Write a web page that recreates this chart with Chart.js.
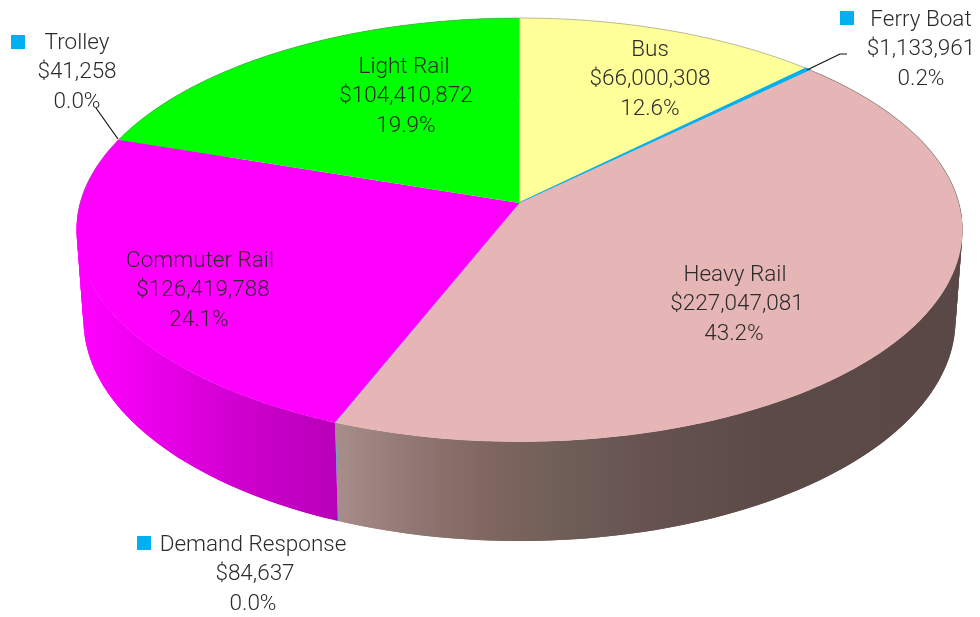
<!DOCTYPE html>
<html>
<head>
<meta charset="utf-8">
<style>html,body{margin:0;padding:0;background:#fff}canvas{display:block}</style>
<script src="https://cdn.jsdelivr.net/npm/chart.js@4"></script>
</head>
<body>
<canvas id="c" width="980" height="617"></canvas>
<script>
const categories = ['Bus','Ferry Boat','Heavy Rail','Demand Response','Commuter Rail','Trolley','Light Rail'];
const amounts = [66000308,1133961,227047081,84637,126419788,41258,104410872];
const amountLabels = ['$66,000,308','$1,133,961','$227,047,081','$84,637','$126,419,788','$41,258','$104,410,872'];
const percentLabels = ['12.6%','0.2%','43.2%','0.0%','24.1%','0.0%','19.9%'];
const sliceColors = ['#ffff99','#00b0f0','#e6b5b5','#00b0f0','#ff00ff','#00b0f0','#00ff00'];
const sliceBorders = [0,1.5,0,0,0,0,0];

// layout (not data): x of name, amount, percent lines and y of the first line
const labelXs = [[650,650,650],[921,921,921],[735,737,734],[253,255,253],[200,203,199],[77,77,77],[404,406,406]];
const labelYs = [50,20,275,545,261,43,67];
const markers = {1:[840,11],3:[137,536],5:[11,35]};
const leaders = {1:[[847,54],[840,54],[807,70]],5:[[96,108],[118,139]]};
const LINE_GAP = 29.5;

const cx = 519.5;
const topFace = {a:182.7,b:203,c:-0.127,d:439.4};
const botFace = {a:180.4,b:291.9,c:-0.127,d:432.5};
function project(f,ang){
  const u=Math.cos(ang), v=Math.sin(ang), w=1+f.c*v;
  return [cx+f.d*u/w,(f.a*v+f.b)/w];
}
function rim(ctx,f,a0,a1,first){
  const n=Math.max(2,Math.ceil(Math.abs(a1-a0)/0.01));
  for(let i=0;i<=n;i++){
    const p=project(f,a0+(a1-a0)*i/n);
    if(i===0&&first)ctx.moveTo(p[0],p[1]);else ctx.lineTo(p[0],p[1]);
  }
}
function wallFill(ctx,i){
  if(i===2){
    const g=ctx.createLinearGradient(335,0,955,0);
    [[0,'#a88e8a'],[0.14,'#8f7571'],[0.24,'#80675f'],[0.37,'#6f5e58'],[0.49,'#675452'],[0.69,'#5c4a47'],[1,'#5a4846']]
      .forEach(s=>g.addColorStop(s[0],s[1]));
    return g;
  }
  if(i===4){
    const g=ctx.createLinearGradient(84,0,338,0);
    [[0,'#ff00ff'],[0.3,'#e800e8'],[0.65,'#cc00cc'],[1,'#b800b8']]
      .forEach(s=>g.addColorStop(s[0],s[1]));
    return g;
  }
  return sliceColors[i];
}
function wall(ctx,arc,fill){
  // overlapping quads, so the strip stays filled where it folds at the silhouette
  const step=0.02, span=arc.endAngle-arc.startAngle, n=Math.max(1,Math.ceil(span/step));
  ctx.fillStyle=fill;
  for(let k=0;k<n;k++){
    const a0=arc.startAngle+span*k/n, a1=arc.startAngle+span*Math.min(n,k+2)/n;
    const t0=project(topFace,a0),t1=project(topFace,a1),b1=project(botFace,a1),b0=project(botFace,a0);
    ctx.beginPath();
    ctx.moveTo(t0[0],t0[1]);ctx.lineTo(t1[0],t1[1]);ctx.lineTo(b1[0],b1[1]);ctx.lineTo(b0[0],b0[1]);
    ctx.closePath();
    ctx.fill();
  }
}
const perspectivePie = {
  id:'perspectivePie',
  beforeDatasetDraw(chart,args){
    const ctx=chart.ctx, arcs=chart.getDatasetMeta(args.index).data;
    ctx.save();
    arcs.forEach((arc,i)=>wall(ctx,arc,wallFill(ctx,i)));
    arcs.forEach(arc=>{
      ctx.beginPath();
      ctx.moveTo(cx,topFace.b);
      rim(ctx,topFace,arc.startAngle,arc.endAngle,false);
      ctx.closePath();
      ctx.fillStyle=arc.options.backgroundColor;
      ctx.fill();
      if(arc.options.borderWidth>0){
        ctx.strokeStyle=arc.options.borderColor;
        ctx.lineWidth=arc.options.borderWidth;
        ctx.stroke();
      }
    });
    ctx.beginPath();
    rim(ctx,topFace,Math.PI*0.98,Math.PI*2.02,true);
    ctx.strokeStyle='rgba(120,120,120,0.5)';
    ctx.lineWidth=1;
    ctx.stroke();
    ctx.restore();
    return false;
  }
};
const sliceLabels = {
  id:'sliceLabels',
  afterDatasetsDraw(chart){
    const ctx=chart.ctx;
    ctx.save();
    ctx.strokeStyle='#111';
    ctx.lineWidth=1.2;
    Object.values(leaders).forEach(pts=>{
      ctx.beginPath();
      pts.forEach((p,k)=>k?ctx.lineTo(p[0],p[1]):ctx.moveTo(p[0],p[1]));
      ctx.stroke();
    });
    ctx.fillStyle='#00b0f0';
    Object.values(markers).forEach(m=>ctx.fillRect(m[0],m[1],14,14));
    ctx.font='300 22.5px Roboto';
    ctx.textAlign='center';
    ctx.textBaseline='middle';
    ctx.fillStyle='#2b2b2b';
    categories.forEach((name,i)=>{
      const xs=labelXs[i], y=labelYs[i];
      ctx.fillText(name,xs[0],y);
      ctx.fillText(amountLabels[i],xs[1],y+LINE_GAP);
      ctx.fillText(percentLabels[i],xs[2],y+2*LINE_GAP);
    });
    ctx.restore();
  }
};
new Chart(document.getElementById('c'),{
  type:'pie',
  data:{labels:categories,datasets:[{data:amounts,backgroundColor:sliceColors,borderColor:sliceColors,borderWidth:sliceBorders}]},
  options:{
    responsive:false,
    animation:false,
    rotation:0,
    layout:{padding:0},
    plugins:{legend:{display:false},tooltip:{enabled:false}}
  },
  plugins:[perspectivePie,sliceLabels]
});
</script>
</body>
</html>
